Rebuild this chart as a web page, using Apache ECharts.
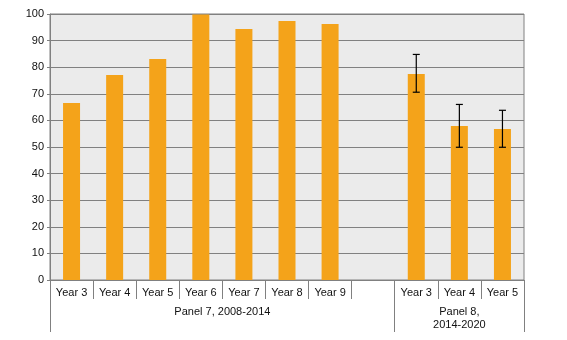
<!DOCTYPE html>
<html><head><meta charset="utf-8">
<script src="https://cdn.jsdelivr.net/npm/echarts@6/dist/echarts.min.js"></script>
<style>html,body{margin:0;padding:0;background:#fff}#c{width:567px;height:340px}</style>
</head><body><div id="c"></div>
<script>
const categories = ["Year 3","Year 4","Year 5","Year 6","Year 7","Year 8","Year 9","","Year 3","Year 4","Year 5"];
const values = [66.5, 77.1, 83.1, 99.8, 94.4, 97.4, 96.2, null, 77.4, 57.9, 56.8];
const errLow = [null, null, null, null, null, null, null, null, 70.6, 49.9, 49.9];
const errHigh = [null, null, null, null, null, null, null, null, 84.8, 66.0, 63.8];
const panelLabels = ["Panel 7, 2008-2014", "Panel 8,\n2014-2020"];
const panelCenters = [4, 9.5];
const panelBounds = [0, 8, 11];
const yTicks = [0,10,20,30,40,50,60,70,80,90,100];

const errData = [];
categories.forEach((c,i)=>{ if(errLow[i]!=null) errData.push([i, errLow[i], errHigh[i]]); });

const font = "'Liberation Sans', Arial, sans-serif";
const txt = '#111';
const chart = echarts.init(document.getElementById('c'), null, {renderer:'canvas'});
chart.setOption({
  animation:false,
  grid:{left:50,right:43,top:14,bottom:60,show:true,backgroundColor:'#EBEBEB',borderColor:'#808080',borderWidth:1},
  xAxis:[{
    type:'category', data:categories, position:'bottom',
    axisLine:{show:true,lineStyle:{color:'#808080',width:1}},
    axisTick:{show:true,interval:0,length:19,lineStyle:{color:'#808080'}},
    axisLabel:{interval:0,margin:7,fontSize:11,color:txt,fontFamily:font},
    splitLine:{show:false}
  },{
    type:'value', min:0, max:11, position:'bottom',
    axisLine:{show:false},
    axisTick:{show:true,customValues:panelBounds,length:52,lineStyle:{color:'#808080'}},
    axisLabel:{customValues:panelCenters,margin:25,fontSize:11,lineHeight:13,color:txt,fontFamily:font,
      verticalAlign:'top',
      formatter:function(v){const k=panelCenters.indexOf(v);return k>=0?panelLabels[k]:'';}},
    splitLine:{show:false}
  }],
  yAxis:{
    type:'value', min:0, max:100, interval:10,
    axisLine:{show:true,lineStyle:{color:'#808080'}},
    axisTick:{show:true,length:3,lineStyle:{color:'#808080'}},
    axisLabel:{margin:6,fontSize:11,color:txt,fontFamily:font,
      formatter:function(v){return yTicks.indexOf(v)>=0?String(v):'';}},
    splitLine:{show:true,lineStyle:{color:'#808080',width:1}}
  },
  series:[{
    type:'bar', data:values, barWidth:17, xAxisIndex:0,
    itemStyle:{color:'#F4A31A'}
  },{
    type:'custom', xAxisIndex:0, data:errData, z:10,
    renderItem:function(params, api){
      const x = api.value(0);
      const lo = api.coord([x, api.value(1)]);
      const hi = api.coord([x, api.value(2)]);
      const hw = 3.5;
      const st = {stroke:'#000', lineWidth:1.2};
      return {type:'group', children:[
        {type:'line', shape:{x1:lo[0],y1:lo[1],x2:hi[0],y2:hi[1]}, style:st},
        {type:'line', shape:{x1:lo[0]-hw,y1:lo[1],x2:lo[0]+hw,y2:lo[1]}, style:st},
        {type:'line', shape:{x1:hi[0]-hw,y1:hi[1],x2:hi[0]+hw,y2:hi[1]}, style:st}
      ]};
    }
  }]
});
</script></body></html>
